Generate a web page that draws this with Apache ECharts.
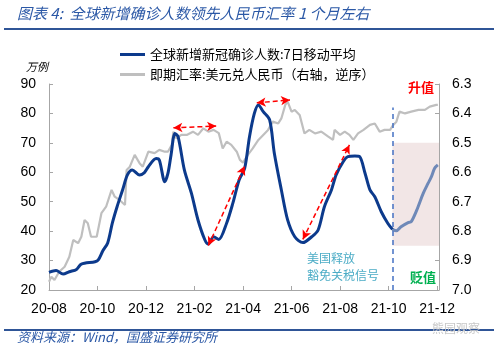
<!DOCTYPE html>
<html>
<head>
<meta charset="utf-8">
<script src="https://cdn.jsdelivr.net/npm/echarts@6/dist/echarts.min.js"></script>
<style>
  html, body { margin: 0; padding: 0; background: #fff; }
  #main { width: 500px; height: 353px; }
</style>
</head>
<body>
<div id="main"></div>
<script>
// 全球新增新冠确诊人数: 7日移动平均 (万例)
const caseDates = ['2020-08-01','2020-08-10','2020-08-19','2020-08-27','2020-09-05','2020-09-11','2020-09-28','2020-10-02','2020-10-08','2020-10-14','2020-10-20','2020-10-26','2020-11-02','2020-11-08','2020-11-14','2020-11-23','2020-11-29','2020-12-04','2020-12-14','2020-12-18','2020-12-25','2020-12-29','2021-01-02','2021-01-07','2021-01-11','2021-01-19','2021-01-28','2021-02-05','2021-02-13','2021-02-17','2021-02-23','2021-03-01','2021-03-11','2021-03-19','2021-03-27','2021-04-03','2021-04-09','2021-04-15','2021-04-20','2021-04-26','2021-05-04','2021-05-10','2021-05-19','2021-05-27','2021-06-05','2021-06-15','2021-06-26','2021-07-04','2021-07-12','2021-07-21','2021-07-27','2021-08-05','2021-08-11','2021-08-20','2021-08-26','2021-09-02','2021-09-08','2021-09-14','2021-09-22','2021-09-30','2021-10-06','2021-10-11','2021-10-17','2021-10-26','2021-10-30','2021-11-06','2021-11-14','2021-11-20','2021-11-24','2021-11-28','2021-12-02'];
const caseValues = [26.0,26.6,25.4,26.2,27.0,28.8,29.6,30.2,33.4,36.0,42.8,48.3,54.0,59.1,60.8,59.1,59.9,61.9,64.7,64.2,56.8,59.6,65.9,73.2,72.1,60.8,52.9,43.8,37.0,35.6,38.1,37.2,42.7,49.5,57.4,61.3,72.1,80.0,82.9,80.6,77.8,66.5,54.0,43.8,38.1,36.1,38.1,40.4,48.3,54.0,59.1,63.6,65.3,65.5,65.3,59.6,54.0,51.7,46.6,42.7,40.6,40.1,41.5,42.9,43.2,47.2,52.9,56.3,58.5,61.4,62.5];

// 即期汇率: 美元兑人民币 (右轴, 逆序)
const fxDates = ['2020-08-01','2020-08-04','2020-08-08','2020-08-14','2020-08-21','2020-08-27','2020-09-01','2020-09-07','2020-09-11','2020-09-15','2020-09-19','2020-09-23','2020-09-30','2020-10-06','2020-10-12','2020-10-19','2020-10-23','2020-10-29','2020-11-05','2020-11-07','2020-11-11','2020-11-17','2020-11-23','2020-11-27','2020-12-04','2020-12-12','2020-12-18','2020-12-25','2020-12-29','2021-01-03','2021-01-05','2021-01-09','2021-01-15','2021-01-22','2021-01-30','2021-02-05','2021-02-11','2021-02-17','2021-02-23','2021-03-01','2021-03-06','2021-03-11','2021-03-17','2021-03-24','2021-03-28','2021-04-01','2021-04-07','2021-04-13','2021-04-20','2021-04-26','2021-05-02','2021-05-08','2021-05-15','2021-05-19','2021-05-24','2021-05-27','2021-06-01','2021-06-05','2021-06-11','2021-06-17','2021-06-23','2021-06-30','2021-07-08','2021-07-17','2021-07-23','2021-07-25','2021-08-01','2021-08-07','2021-08-13','2021-08-18','2021-08-24','2021-08-31','2021-09-08','2021-09-14','2021-09-20','2021-09-26','2021-10-03','2021-10-07','2021-10-11','2021-10-15','2021-10-22','2021-10-30','2021-11-08','2021-11-16','2021-11-22','2021-11-30','2021-12-02'];
const fxValues = [6.972,6.955,6.966,6.938,6.921,6.887,6.830,6.841,6.819,6.762,6.773,6.819,6.819,6.739,6.717,6.660,6.683,6.694,6.711,6.592,6.581,6.541,6.569,6.581,6.530,6.535,6.524,6.530,6.530,6.507,6.462,6.485,6.473,6.473,6.462,6.473,6.451,6.462,6.456,6.467,6.519,6.496,6.507,6.530,6.558,6.567,6.541,6.519,6.490,6.473,6.456,6.428,6.434,6.417,6.371,6.360,6.394,6.388,6.405,6.468,6.456,6.468,6.462,6.479,6.490,6.456,6.473,6.462,6.473,6.490,6.468,6.456,6.439,6.434,6.462,6.456,6.456,6.439,6.428,6.394,6.400,6.394,6.388,6.388,6.377,6.371,6.371];

const xTickLabels = ['20-08','20-10','20-12','21-02','21-04','21-06','21-08','21-10','21-12'];
const splitDate = '2021-10-06';   // 美国释放豁免关税信号

// 红色虚线箭头 [起点日期, 起点值, 终点日期, 终点值] (左轴)
const arrowLines = [
  ['2021-01-05', 75.1, '2021-02-26', 75.7],
  ['2021-04-18', 83.6, '2021-05-30', 84.6],
  ['2021-02-17', 35.1, '2021-04-03', 62.1],
  ['2021-06-15', 37.2, '2021-08-13', 69.3]
];

// 日期 -> 自 2020-08 起的月份序号(含小数)
function mIdx(s) {
  const [y, m, d] = s.split('-').map(Number);
  const dim = new Date(y, m, 0).getDate();
  return (y - 2020) * 12 + (m - 8) + (d - 1) / dim;
}

const splitM = mIdx(splitDate);
const casePts = caseDates.map((d, i) => [mIdx(d), caseValues[i]]);
const darkPts = casePts.filter(p => p[0] <= splitM + 1e-6);
const lightPts = casePts.filter(p => p[0] >= splitM - 1e-6);
const fxPts = fxDates.map((d, i) => [mIdx(d), fxValues[i]]);
const xMax = 16.08;

const cjk = '"Noto Sans CJK SC", sans-serif';
const num = '"Liberation Sans", Arial, sans-serif';
const blueTitle = '#2b58a6';

const chart = echarts.init(document.getElementById('main'));
chart.setOption({
  animation: false,
  backgroundColor: '#fff',
  grid: { left: 49, right: 61, top: 84, bottom: 63 },
  legend: {
    orient: 'vertical',
    left: 115,
    top: 43,
    itemWidth: 25,
    itemHeight: 3,
    itemGap: 7,
    icon: 'rect',
    textStyle: { fontFamily: cjk, fontSize: 13, color: '#000' },
    data: ['全球新增新冠确诊人数:7日移动平均', '即期汇率:美元兑人民币（右轴，逆序）']
  },
  xAxis: {
    type: 'value',
    min: 0,
    max: xMax,
    interval: 2,
    axisLine: { lineStyle: { color: '#a6a6a6', width: 1 } },
    axisTick: { inside: true, length: 4, lineStyle: { color: '#a6a6a6' } },
    splitLine: { show: false },
    axisLabel: {
      margin: 12,
      fontFamily: num,
      fontSize: 14,
      color: '#000',
      showMaxLabel: false,
      formatter: v => {
        const k = Math.round(v);
        if (Math.abs(v - k) > 1e-6 || k % 2) return '';
        return xTickLabels[k / 2] || '';
      }
    }
  },
  yAxis: [
    {
      type: 'value',
      min: 20,
      max: 90,
      interval: 10,
      axisLine: { show: true, lineStyle: { color: '#a6a6a6' } },
      axisTick: { show: true, inside: true, length: 4, lineStyle: { color: '#a6a6a6' } },
      splitLine: { show: false },
      axisLabel: { margin: 13, fontFamily: num, fontSize: 14, color: '#000' }
    },
    {
      type: 'value',
      min: 6.3,
      max: 7.0,
      interval: 0.1,
      inverse: true,
      axisLine: { show: true, lineStyle: { color: '#a6a6a6' } },
      axisTick: { show: true, inside: true, length: 4, lineStyle: { color: '#a6a6a6' } },
      splitLine: { show: false },
      axisLabel: { margin: 13, fontFamily: num, fontSize: 14, color: '#000', formatter: v => v.toFixed(1) }
    }
  ],
  series: [
    {
      name: '即期汇率:美元兑人民币（右轴，逆序）',
      type: 'line',
      yAxisIndex: 1,
      data: fxPts,
      showSymbol: false,
      symbol: 'none',
      z: 2,
      color: '#bfbfbf',
      lineStyle: { color: '#bfbfbf', width: 2.2 }
    },
    {
      name: '全球新增新冠确诊人数:7日移动平均',
      type: 'line',
      yAxisIndex: 0,
      data: darkPts,
      symbol: 'none',
      smooth: 0.3,
      z: 4,
      color: '#0c3a8c',
      lineStyle: { color: '#0c3a8c', width: 3 },
      markLine: {
        silent: true,
        symbol: ['arrow', 'arrow'],
        symbolSize: [7, 9],
        label: { show: false },
        lineStyle: { color: '#ff0000', type: [5, 3], width: 1.5 },
        data: arrowLines.map(a => [
          { coord: [mIdx(a[0]), a[1]] },
          { coord: [mIdx(a[2]), a[3]] }
        ])
      }
    },
    {
      name: '美国释放豁免关税信号之后',
      type: 'line',
      yAxisIndex: 0,
      data: lightPts,
      symbol: 'none',
      smooth: 0.3,
      z: 3,
      color: '#6f89b8',
      lineStyle: { color: '#6f89b8', width: 3 },
      markArea: {
        silent: true,
        itemStyle: { color: '#f2e6e6' },
        data: [[{ coord: [splitM, 70] }, { coord: [xMax, 35] }]]
      },
      markLine: {
        silent: true,
        symbol: ['none', 'none'],
        label: { show: false },
        lineStyle: { color: '#4472c4', type: [5, 4], width: 1.5 },
        data: [[{ coord: [splitM, 20] }, { coord: [splitM, 82] }]]
      }
    }
  ],
  graphic: [
    { type: 'text', left: 17, top: 6,
      style: { text: '图表 4:  全球新增确诊人数领先人民币汇率 1 个月左右', fontFamily: cjk, fontSize: 15, fontStyle: 'italic', fill: blueTitle } },
    { type: 'line', shape: { x1: 4, y1: 29, x2: 494, y2: 29 }, style: { stroke: '#2f5597', lineWidth: 2 } },
    { type: 'text', left: 26, top: 61,
      style: { text: '万例', fontFamily: cjk, fontSize: 11, fontStyle: 'italic', fill: '#000' } },
    { type: 'text', left: 408, top: 81,
      style: { text: '升值', fontFamily: cjk, fontSize: 13, fontWeight: 'bold', fill: '#ff0000' } },
    { type: 'text', left: 410, top: 271,
      style: { text: '贬值', fontFamily: cjk, fontSize: 13, fontWeight: 'bold', fill: '#00b050' } },
    { type: 'text', left: 307, top: 252,
      style: { text: '美国释放', fontFamily: cjk, fontSize: 12, fill: '#4bacc6' } },
    { type: 'text', left: 307, top: 269,
      style: { text: '豁免关税信号', fontFamily: cjk, fontSize: 12, fill: '#4bacc6' } },
    { type: 'line', shape: { x1: 4, y1: 330, x2: 494, y2: 330 }, style: { stroke: '#2f5597', lineWidth: 2 } },
    { type: 'text', left: 17, top: 331,
      style: { text: '资料来源：Wind，国盛证券研究所', fontFamily: cjk, fontSize: 13, fontStyle: 'italic', fill: blueTitle } },
    { type: 'text', left: 432, top: 322,
      style: { text: '熊园观察', fontFamily: cjk, fontSize: 12, fill: '#c8c8c8' } }
  ]
});
</script>
</body>
</html>
